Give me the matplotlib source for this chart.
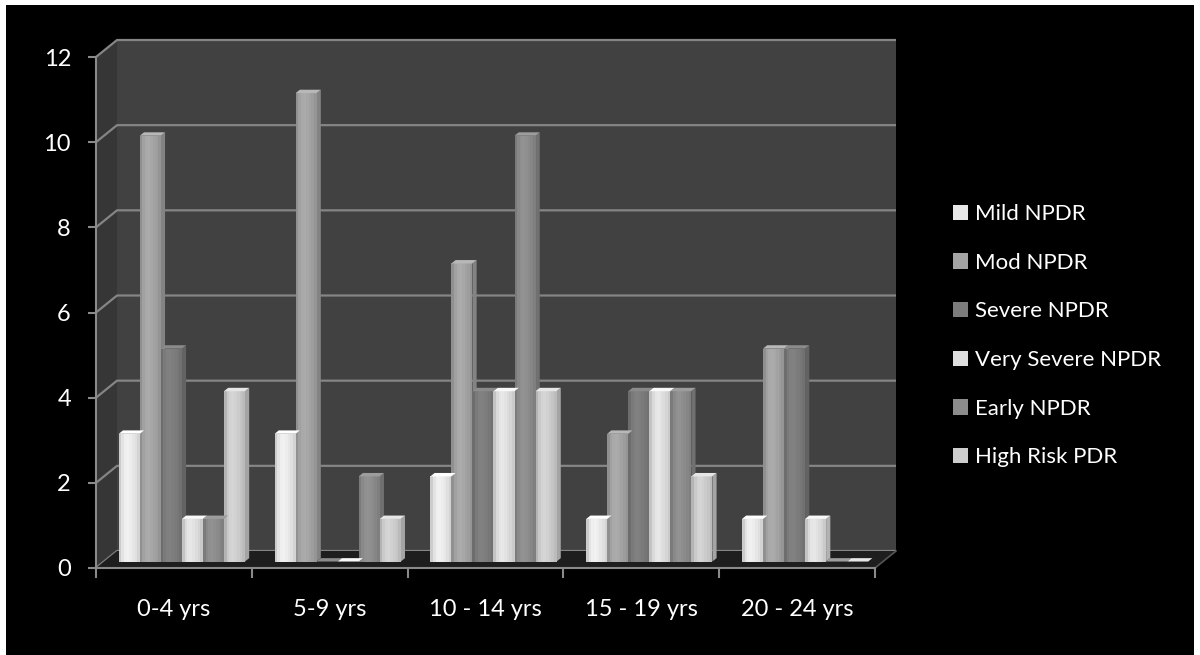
import numpy as np
import matplotlib.pyplot as plt
from matplotlib.patches import Polygon, Rectangle, Patch
from matplotlib.transforms import ScaledTranslation, IdentityTransform
from matplotlib.colors import to_rgb

plt.rcParams['font.family'] = ['Lato', 'DejaVu Sans']

groups = ['0-4 yrs', '5-9 yrs', '10 - 14 yrs', '15 - 19 yrs', '20 - 24 yrs']
series = ['Mild NPDR', 'Mod NPDR', 'Severe NPDR', 'Very Severe NPDR',
          'Early NPDR', 'High Risk PDR']

mild = [3, 3, 2, 1, 1]
mod = [10, 11, 7, 3, 5]
severe = [5, 0, 4, 4, 5]
very_severe = [1, 0, 4, 4, 1]
early = [1, 2, 10, 4, 0]
high_risk = [4, 1, 4, 2, 0]

values = [mild, mod, severe, very_severe, early, high_risk]
colors = ['#e8e8e8', '#a4a4a4', '#7c7c7c', '#dedede', '#8c8c8c', '#cdcdcd']

yticks = list(range(0, 13, 2))

# depth of the 3D box, in pixels (right, up)
DX, DY = 21.0, 17.0
D_FRONT, D_BACK = 0.38, 0.58   # depth range occupied by the columns

W, H = 1200, 655
fig = plt.figure(figsize=(W / 100, H / 100), dpi=100, facecolor='black')
ax = fig.add_axes([96 / W, (H - 568) / H, (875 - 96) / W, (568 - 57) / H])
ax.set_facecolor('none')
ax.set_xlim(0, len(groups))
ax.set_ylim(0, 12)

px_tr = IdentityTransform()


def px(x, y, d=0.0):
    X, Y = ax.transData.transform((x, y))
    return (X + d * DX, Y + d * DY)


def shade(c, f):
    r = np.clip(np.array(to_rgb(c)) * f, 0, 1)
    return tuple(r)


def poly(pts, color, z, **kw):
    p = Polygon(pts, closed=True, facecolor=color, edgecolor='none',
                transform=px_tr, clip_on=False, zorder=z, **kw)
    ax.add_patch(p)
    return p


ng = len(groups)
# side wall, back wall, floor
poly([px(0, 0, 0), px(0, 12, 0), px(0, 12, 1), px(0, 0, 1)], '#363636', 0.5)
poly([px(0, 0, 1), px(0, 12, 1), px(ng, 12, 1), px(ng, 0, 1)], '#414141', 0.5)
poly([px(0, 0, 0), px(0, 0, 1), px(ng, 0, 1), px(ng, 0, 0)], '#1e1e1e', 0.7)

grid_col = '#858585'
for v in yticks:
    a, b, c = px(0, v, 0), px(0, v, 1), px(ng, v, 1)
    ax.plot([a[0], b[0], c[0]], [a[1], b[1], c[1]], color=grid_col, lw=1.6,
            transform=px_tr, clip_on=False, zorder=0.6, solid_capstyle='butt')
# right edge of the floor
a, b = px(ng, 0, 0), px(ng, 0, 1)
ax.plot([a[0], b[0]], [a[1], b[1]], color='#555555', lw=1.2,
        transform=px_tr, clip_on=False, zorder=0.75)

# columns
bw = 0.135
nstrip = 8
profile = [0.88, 0.98, 1.03, 1.04, 1.02, 0.99, 0.96, 0.91]
shift = ax.transData + ScaledTranslation(D_FRONT * DX / 100, D_FRONT * DY / 100,
                                         fig.dpi_scale_trans)
x_centers = np.arange(ng) + 0.5
for j, (vals, col) in enumerate(zip(values, colors)):
    x_left = x_centers + (j - 3) * bw
    for k in range(nstrip):
        ax.bar(x_left + k * bw / nstrip, vals, width=bw / nstrip * 1.02,
               align='edge', color=shade(col, profile[k]), linewidth=0,
               transform=shift, clip_on=False, zorder=2 + j * 0.01 + 0.001 * k)
    for xl, v in zip(x_left, vals):
        xr = xl + bw
        z = 2.5 + j * 0.01
        # right side face
        poly([px(xr, 0, D_FRONT), px(xr, v, D_FRONT),
              px(xr, v, D_BACK), px(xr, 0, D_BACK)], shade(col, 0.8), 1.9)
        # top face
        poly([px(xl, v, D_FRONT), px(xr, v, D_FRONT),
              px(xr, v, D_BACK), px(xl, v, D_BACK)], shade(col, 1.12), z)

# axes lines and ticks
for s in ['top', 'right']:
    ax.spines[s].set_visible(False)
for s in ['left', 'bottom']:
    ax.spines[s].set_color('#8a8a8a')
    ax.spines[s].set_linewidth(1.5)
    ax.spines[s].set_zorder(3)

ax.set_yticks(yticks)
ax.set_yticklabels([str(v) for v in yticks], color='white', fontsize=17)
ax.tick_params(axis='y', length=6, width=1.5, color='#8a8a8a', pad=12)
ax.set_xticks(range(ng + 1))
ax.set_xticklabels([])
ax.tick_params(axis='x', which='major', length=7, width=1.5, color='#8a8a8a')
ax.set_xticks(x_centers, minor=True)
ax.set_xticklabels(groups, minor=True, color='white', fontsize=17)
ax.tick_params(axis='x', which='minor', length=0, pad=22)

handles = [Patch(facecolor=c, edgecolor='none') for c in colors]
ax.legend(handles, series, loc='upper left', bbox_to_anchor=(942 / W, 1 - 193 / H),
          bbox_transform=fig.transFigure, frameon=False, labelcolor='white',
          fontsize=16, handlelength=0.68, handleheight=0.68, handletextpad=0.3,
          labelspacing=1.29, borderpad=0)

# white frame on left, top and right
for (x0, y0, w, h) in [(0, 0, 6, H), (0, H - 5, W, 5), (W - 6, 0, 6, H)]:
    fig.add_artist(Rectangle((x0 / W, y0 / H), w / W, h / H, facecolor='white',
                             edgecolor='none', transform=fig.transFigure))

fig.savefig('out.png', dpi=100, facecolor='black')
